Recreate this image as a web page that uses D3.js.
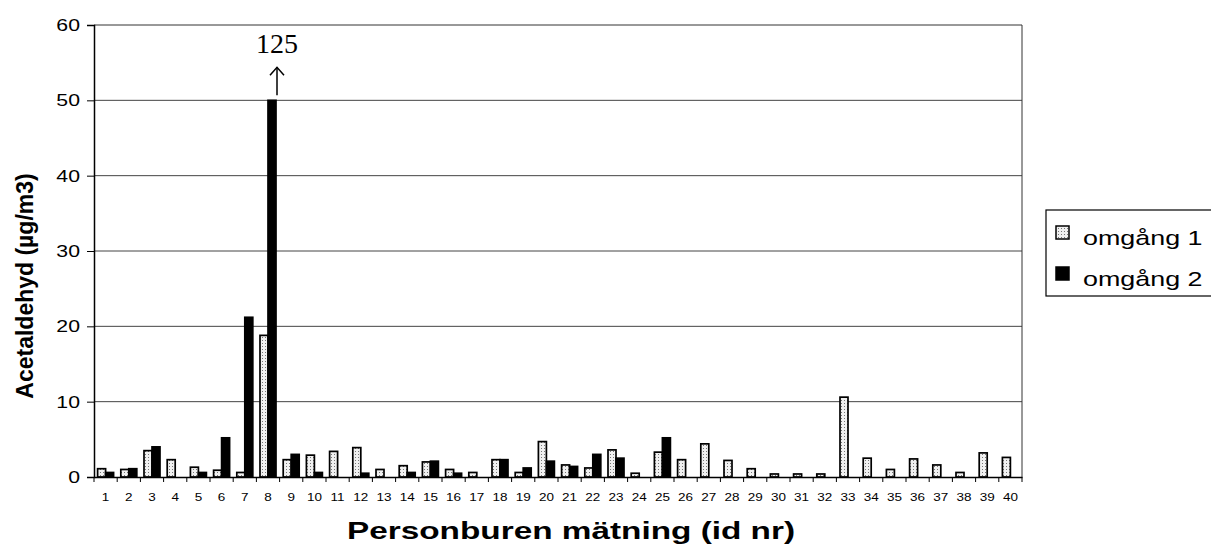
<!DOCTYPE html>
<html>
<head>
<meta charset="utf-8">
<script src="https://cdn.jsdelivr.net/npm/d3@7"></script>
<style>
  body { margin: 0; background: #fff; }
  #chart { width: 1211px; height: 550px; }
</style>
</head>
<body>
<div id="chart"></div>
<script>
// data
var ids = d3.range(1, 41).map(String);
var omgang1 = [1.1, 1.0, 3.5, 2.3, 1.3, 0.9, 0.6, 18.8, 2.3, 2.9,
               3.4, 3.9, 1.0, 1.5, 2.0, 1.0, 0.6, 2.3, 0.6, 4.7,
               1.6, 1.2, 3.6, 0.5, 3.3, 2.3, 4.4, 2.2, 1.1, 0.4,
               0.4, 0.4, 10.6, 2.5, 1.0, 2.4, 1.6, 0.6, 3.2, 2.6];
var omgang2 = [0.6, 1.1, 4.0, 0, 0.6, 5.2, 21.2, 125, 3.0, 0.6,
               0, 0.5, 0, 0.6, 2.1, 0.5, 0, 2.3, 1.2, 2.1,
               1.4, 3.0, 2.5, 0, 5.2, 0, 0, 0, 0, 0,
               0, 0, 0, 0, 0, 0, 0, 0, 0, 0];
var seriesNames = ["omgång 1", "omgång 2"];
var yTicks = [0, 10, 20, 30, 40, 50, 60];
var capValue = 50; // bars above this are cut off and labelled

var width = 1211, height = 550,
    marginLeft = 94, marginRight = 189,
    marginTop = 25, marginBottom = 73,
    chartWidth = width - marginLeft - marginRight,
    chartHeight = height - marginTop - marginBottom;

var svg = d3.select("#chart").append("svg")
    .attr("width", width)
    .attr("height", height)
    .style("font-family", "'Liberation Sans', Arial, sans-serif");

// stipple for omgang 1
var pat = svg.append("defs").append("pattern")
    .attr("id", "stip")
    .attr("width", 3).attr("height", 3)
    .attr("patternUnits", "userSpaceOnUse");
pat.append("rect").attr("width", 3).attr("height", 3).attr("fill", "#f0f0f0");
pat.append("rect").attr("width", 1).attr("height", 1).attr("fill", "#777");

var xScale = d3.scaleBand().domain(ids).range([0, chartWidth]);
var yScale = d3.scaleLinear().domain([0, 60]).range([chartHeight, 0]);

var chartArea = svg.append("g")
    .attr("transform", "translate(" + marginLeft + "," + marginTop + ")");

// grid
chartArea.append("g")
    .selectAll("line").data(yTicks.filter(function(d){ return d > 0 && d < 60; })).enter()
    .append("line")
      .attr("x1", 0).attr("x2", chartWidth)
      .attr("y1", function(d){ return yScale(d); })
      .attr("y2", function(d){ return yScale(d); })
      .style("stroke", "#444")
      .style("stroke-width", 1);

// frame top/right
chartArea.append("line")
    .attr("x1", 0).attr("x2", chartWidth).attr("y1", 0).attr("y2", 0)
    .style("stroke", "#333");
chartArea.append("line")
    .attr("x1", chartWidth).attr("x2", chartWidth).attr("y1", 0).attr("y2", chartHeight)
    .style("stroke", "#333");

var barW = 8;
function rows(arr){
  return arr.map(function(v, i){ return {id: ids[i], v: v}; })
            .filter(function(d){ return d.v > 0; });
}

// omgang 1
chartArea.append("g")
    .selectAll("rect").data(rows(omgang1)).enter()
    .append("rect")
      .attr("x", function(d){ return xScale(d.id) + xScale.bandwidth() / 2 - barW; })
      .attr("y", function(d){ return yScale(Math.min(d.v, capValue)); })
      .attr("width", barW)
      .attr("height", function(d){ return chartHeight - yScale(Math.min(d.v, capValue)); })
      .style("fill", "url(#stip)")
      .style("stroke", "#000")
      .style("stroke-width", 1.7);

// omgang 2
chartArea.append("g")
    .selectAll("rect").data(rows(omgang2)).enter()
    .append("rect")
      .attr("x", function(d){ return xScale(d.id) + xScale.bandwidth() / 2; })
      .attr("y", function(d){ return yScale(Math.min(d.v, capValue)); })
      .attr("width", barW)
      .attr("height", function(d){ return chartHeight - yScale(Math.min(d.v, capValue)); })
      .style("fill", "#000")
      .style("stroke", "#000")
      .style("stroke-width", 1.7);

// y axis
var yStretch = 1.25;
var yg = chartArea.append("g")
    .call(d3.axisLeft(yScale).tickValues(yTicks).tickSize(7).tickPadding(7));
yg.select(".domain").style("stroke", "#000").style("stroke-width", 1.5);
yg.selectAll(".tick text")
    .attr("x", -14 / yStretch)
    .attr("transform", "scale(" + yStretch + ",1)")
    .style("font-size", "17px")
    .style("font-family", "'Liberation Sans', Arial, sans-serif");

// x axis
var xg = chartArea.append("g")
    .attr("transform", "translate(0," + chartHeight + ")")
    .call(d3.axisBottom(xScale).tickSize(0).tickPadding(0));
xg.select(".domain").style("stroke", "#000").style("stroke-width", 1.5);
xg.selectAll(".tick text")
    .attr("dy", null).attr("y", 24)
    .attr("transform", "scale(1.35,1)")
    .style("font-size", "10px")
    .style("font-family", "'Liberation Sans', Arial, sans-serif");
// ticks between categories
xg.selectAll("line.sep").data(d3.range(ids.length + 1)).enter()
    .append("line")
      .attr("x1", function(d){ return d * xScale.bandwidth(); })
      .attr("x2", function(d){ return d * xScale.bandwidth(); })
      .attr("y1", 0).attr("y2", 5)
      .style("stroke", "#000");

// annotation for the cut off bar
var bigI = omgang2.indexOf(d3.max(omgang2));
var ax = xScale(ids[bigI]) + xScale.bandwidth() / 2 + barW / 2 + 5;
var aTop = yScale(capValue) - 33, aBot = yScale(capValue) - 5;
chartArea.append("text")
    .attr("x", ax).attr("y", aTop - 14)
    .attr("text-anchor", "middle")
    .style("font-family", "'Liberation Serif', 'Times New Roman', serif")
    .style("font-size", "28px")
    .text(d3.max(omgang2));
chartArea.append("line")
    .attr("x1", ax).attr("x2", ax).attr("y1", aBot).attr("y2", aTop)
    .style("stroke", "#000").style("stroke-width", 1.5);
chartArea.append("path")
    .attr("d", "M" + (ax - 7) + "," + (aTop + 8) + " L" + ax + "," + aTop + " L" + (ax + 7) + "," + (aTop + 8))
    .style("fill", "none").style("stroke", "#000").style("stroke-width", 1.5);

// axis titles
svg.append("text")
    .attr("transform", "translate(33," + (marginTop + chartHeight / 2 + 35) + ") rotate(-90)")
    .attr("text-anchor", "middle")
    .style("font-size", "23px").style("font-weight", "bold")
    .text("Acetaldehyd (µg/m3)");
svg.append("text")
    .attr("transform", "translate(" + 571 + ",539) scale(1.45,1)")
    .attr("text-anchor", "middle")
    .style("font-size", "23px").style("font-weight", "bold")
    .text("Personburen mätning (id nr)");

// legend
var legend = svg.append("g").attr("transform", "translate(1046,210)");
legend.append("rect")
    .attr("width", 170).attr("height", 86)
    .style("fill", "#fff").style("stroke", "#000").style("stroke-width", 1.2);
var fills = ["url(#stip)", "#000"];
seriesNames.forEach(function(name, i){
  var row = legend.append("g").attr("transform", "translate(0," + (i * 41) + ")");
  row.append("rect")
      .attr("x", 10).attr("y", 16).attr("width", 13).attr("height", 13)
      .style("fill", fills[i]).style("stroke", "#000").style("stroke-width", 1.5);
  row.append("text")
      .attr("transform", "translate(37,35) scale(1.28,1)")
      .style("font-size", "21px")
      .text(name);
});
</script>
</body>
</html>
